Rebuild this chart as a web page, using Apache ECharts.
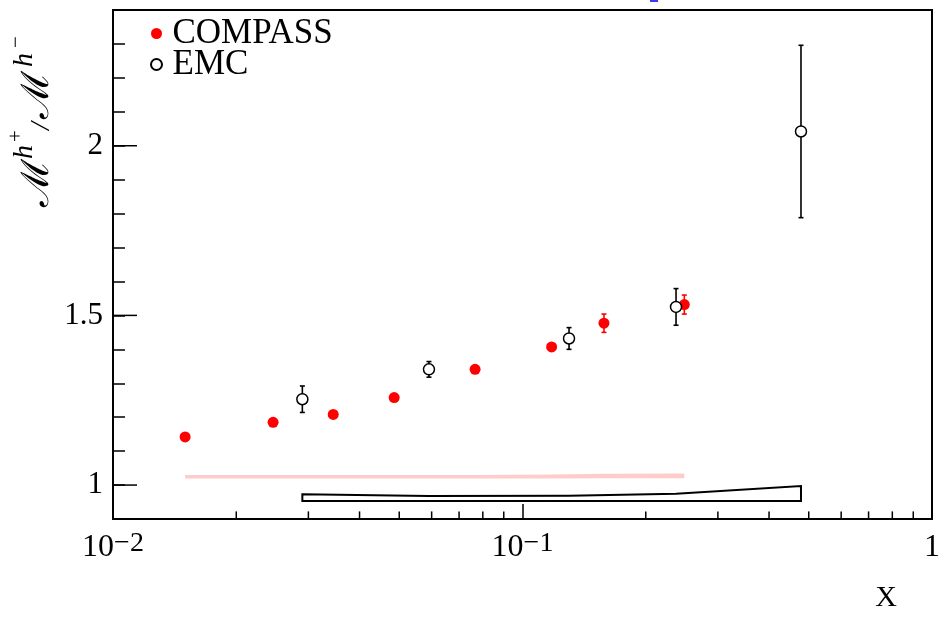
<!DOCTYPE html>
<html>
<head>
<meta charset="utf-8">
<script src="https://cdn.jsdelivr.net/npm/echarts@6/dist/echarts.min.js"></script>
<style>
  html, body { margin: 0; padding: 0; background: #fff; }
  #chart { width: 943px; height: 620px; }
</style>
</head>
<body>
<div id="chart"></div>
<script>
// COMPASS multiplicity ratio M(h+)/M(h-) versus x
const compassX   = [0.0150, 0.0246, 0.0345, 0.0486, 0.0766, 0.1178, 0.1581, 0.2484];
const compassY   = [1.142, 1.185, 1.208, 1.258, 1.341, 1.407, 1.477, 1.532];
const compassErr = [0.006, 0.006, 0.007, 0.008, 0.009, 0.011, 0.027, 0.028];
// COMPASS systematic band (lower / upper edge)
const compassSysLow  = [1.019, 1.019, 1.019, 1.019, 1.019, 1.019, 1.020, 1.020];
const compassSysHigh = [1.030, 1.030, 1.030, 1.030, 1.030, 1.031, 1.033, 1.034];

// EMC results
const emcX   = [0.0290, 0.0591, 0.1299, 0.2371, 0.4787];
const emcY   = [1.253, 1.341, 1.432, 1.525, 2.042];
const emcErr = [0.039, 0.023, 0.032, 0.054, 0.254];
// EMC systematic box: flat base, upper edge per point
const emcSysBase = 0.953;
const emcSysTop  = [0.9726, 0.9676, 0.9685, 0.9746, 0.997];

// Axis ticks and labels
const xMin = 0.01, xMax = 1;
const yMin = 0.9, yMax = 2.4;
const xTickValues = [0.01, 0.1, 1];
const xTickBases  = ['10', '10', '1'];
const xTickExps   = ['−2', '−1', ''];
const xMinorTicks = [0.02, 0.03, 0.04, 0.05, 0.06, 0.07, 0.08, 0.09,
                     0.2, 0.3, 0.4, 0.5, 0.6, 0.7, 0.8, 0.9];
const yTickValues = [1, 1.5, 2];
const yTickLabels = ['1', '1.5', '2'];

const SERIF = 'Liberation Serif';

function findTick(list, v) {
  return list.findIndex(t => Math.abs(t - v) < 1e-6 * Math.max(1, Math.abs(t)));
}

// Filled/outlined polygon between two edges, evaluated through the axes
function polygonItem(xs, lo, hi, style) {
  return function (params, api) {
    if (params.dataIndex !== 0) return null;
    const pts = [];
    for (let i = 0; i < xs.length; i++) pts.push(api.coord([xs[i], hi[i]]));
    for (let i = xs.length - 1; i >= 0; i--) pts.push(api.coord([xs[i], lo[i]]));
    return { type: 'polygon', shape: { points: pts }, style: style };
  };
}

// Vertical error bar with short caps
function errorBarItem(color) {
  return function (params, api) {
    const x = api.value(0);
    const top = api.coord([x, api.value(2)]);
    const bot = api.coord([x, api.value(1)]);
    const c = 2.5;
    const st = { stroke: color, lineWidth: 1.6 };
    return {
      type: 'group',
      children: [
        { type: 'line', shape: { x1: top[0], y1: top[1], x2: bot[0], y2: bot[1] }, style: st },
        { type: 'line', shape: { x1: top[0] - c, y1: top[1], x2: top[0] + c, y2: top[1] }, style: st },
        { type: 'line', shape: { x1: bot[0] - c, y1: bot[1], x2: bot[0] + c, y2: bot[1] }, style: st }
      ]
    };
  };
}

// Extra tick marks drawn from the axis line inward
function tickItem(horizontal, len) {
  return function (params, api) {
    const p = api.coord([api.value(0), api.value(1)]);
    const shape = horizontal
      ? { x1: p[0], y1: p[1], x2: p[0] + len, y2: p[1] }
      : { x1: p[0], y1: p[1], x2: p[0], y2: p[1] - len };
    return { type: 'line', shape: shape, style: { stroke: '#000', lineWidth: 1.5 } };
  };
}

function titleText(x, y, text, opts) {
  return {
    type: 'text', x: x, y: y,
    scaleX: opts.sx || 1, scaleY: opts.sy || 1,
    style: {
      text: text, fontFamily: opts.family || SERIF, fontStyle: opts.italic ? 'italic' : 'normal',
      fontSize: opts.size, fill: '#000',
      textAlign: 'left', textVerticalAlign: 'middle', align: 'left', verticalAlign: 'middle'
    }
  };
}

const chart = echarts.init(document.getElementById('chart'), null, { renderer: 'canvas' });

chart.setOption({
  animation: false,
  backgroundColor: '#fff',
  grid: {
    left: 113, right: 11, top: 10, bottom: 101,
    show: true, borderColor: '#000', borderWidth: 2,
    outerBoundsMode: 'none'
  },
  legend: {
    data: ['COMPASS', 'EMC'],
    orient: 'vertical',
    left: 150, top: 16,
    padding: 0,
    itemWidth: 22, itemHeight: 11, itemGap: -4,
    selectedMode: false,
    textStyle: { fontFamily: SERIF, fontSize: 35, color: '#000', lineHeight: 31 }
  },
  xAxis: {
    type: 'log', logBase: 10, min: xMin, max: xMax,
    axisLine: { show: true, lineStyle: { color: '#000', width: 2 } },
    axisTick: { show: true, inside: true, length: 15, lineStyle: { color: '#000', width: 1.5 } },
    splitLine: { show: false },
    axisLabel: {
      margin: 11,
      showMinLabel: true, showMaxLabel: true,
      formatter: function (v) {
        const i = findTick(xTickValues, v);
        if (i < 0) return '';
        return xTickExps[i] ? '{b|' + xTickBases[i] + '}{s|' + xTickExps[i] + '}' : '{b|' + xTickBases[i] + '}';
      },
      rich: {
        b: { fontFamily: SERIF, fontSize: 32, lineHeight: 36, color: '#000' },
        s: { fontFamily: SERIF, fontSize: 28, lineHeight: 28, verticalAlign: 'top', color: '#000' }
      }
    }
  },
  yAxis: {
    type: 'value', min: yMin, max: yMax, interval: 0.1,
    axisLine: { show: true, lineStyle: { color: '#000', width: 2 } },
    axisTick: { show: true, inside: true, length: 12, lineStyle: { color: '#000', width: 1.5 } },
    splitLine: { show: false },
    axisLabel: {
      margin: 10,
      fontFamily: SERIF, fontSize: 31, color: '#000',
      formatter: function (v) {
        const i = findTick(yTickValues, v);
        return i < 0 ? '' : yTickLabels[i];
      }
    }
  },
  series: [
    {
      name: 'COMPASS sys', type: 'custom', silent: true, z: 1,
      data: compassX.map((x, i) => [x, compassSysHigh[i]]),
      renderItem: polygonItem(compassX, compassSysLow, compassSysHigh, { fill: '#ffcccc', stroke: null })
    },
    {
      name: 'EMC sys', type: 'custom', silent: true, z: 1,
      data: emcX.map((x, i) => [x, emcSysTop[i]]),
      renderItem: polygonItem(emcX, emcX.map(() => emcSysBase), emcSysTop,
        { fill: null, stroke: '#000', lineWidth: 2, lineJoin: 'miter' })
    },
    {
      name: 'COMPASS err', type: 'custom', silent: true, z: 2,
      encode: { x: 0, y: [1, 2] },
      data: compassX.map((x, i) => [x, compassY[i] - compassErr[i], compassY[i] + compassErr[i]]),
      renderItem: errorBarItem('#ff0000')
    },
    {
      name: 'EMC err', type: 'custom', silent: true, z: 2,
      encode: { x: 0, y: [1, 2] },
      data: emcX.map((x, i) => [x, emcY[i] - emcErr[i], emcY[i] + emcErr[i]]),
      renderItem: errorBarItem('#000')
    },
    {
      name: 'COMPASS', type: 'scatter', z: 3,
      symbol: 'circle', symbolSize: 11,
      itemStyle: { color: '#ff0000', opacity: 1 },
      data: compassX.map((x, i) => [x, compassY[i]])
    },
    {
      name: 'EMC', type: 'scatter', z: 3,
      symbol: 'circle', symbolSize: 11,
      itemStyle: { color: '#fff', borderColor: '#000', borderWidth: 1.5, opacity: 1 },
      data: emcX.map((x, i) => [x, emcY[i]])
    },
    {
      name: 'y major ticks', type: 'custom', silent: true, z: 4,
      data: yTickValues.map(v => [xMin, v]),
      renderItem: tickItem(true, 24)
    },
    {
      name: 'x minor ticks', type: 'custom', silent: true, z: 4,
      data: xMinorTicks.map(v => [v, yMin]),
      renderItem: tickItem(false, 7.6)
    }
  ],
  graphic: [
    // y axis title: M^{h+} / M^{h-}, reading bottom to top
    {
      type: 'group', x: 53, y: 207, rotation: Math.PI / 2, silent: true,
      children: [
        titleText(0,   -15, 'ℳ', { family: 'DejaVu Serif', size: 38, sx: 1.1 }),
        titleText(48,  -28, 'h', { italic: true, size: 28 }),
        titleText(65,  -37, '+', { size: 21 }),
        titleText(77,  -11, '/', { italic: true, size: 28 }),
        titleText(88,  -15, 'ℳ', { family: 'DejaVu Serif', size: 38, sx: 1.1 }),
        titleText(140, -28, 'h', { italic: true, size: 28 }),
        titleText(159, -37, '−', { size: 21 })
      ]
    },
    // x axis title
    {
      type: 'text', x: 897, y: 598, silent: true,
      style: { text: 'X', fontFamily: SERIF, fontSize: 30, fill: '#000', textAlign: 'right', textVerticalAlign: 'middle', align: 'right', verticalAlign: 'middle' }
    },
    // blue mark at the top edge
    {
      type: 'rect', silent: true,
      shape: { x: 650, y: 0, width: 8, height: 2 },
      style: { fill: '#3a3aff' }
    }
  ]
});
</script>
</body>
</html>
